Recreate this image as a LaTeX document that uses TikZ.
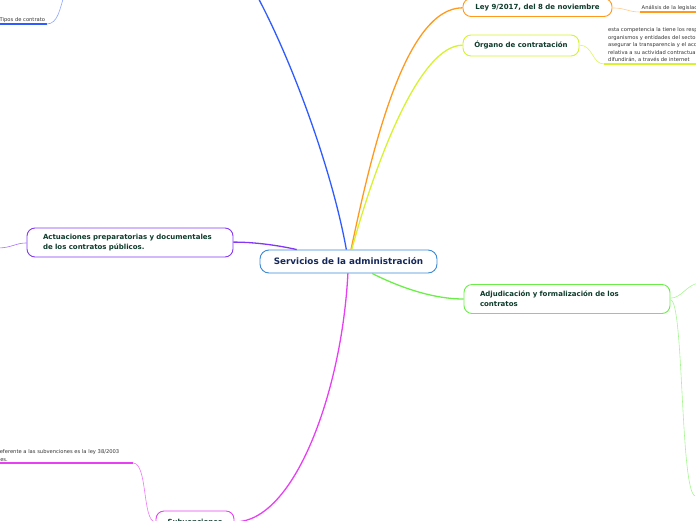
\documentclass[tikz,border=0pt]{standalone}
\usepackage{fontspec}
\setmainfont{DejaVu Sans}
\usepackage{xcolor}
\usepackage{tikz}
\usetikzlibrary{positioning, calc}

\definecolor{ctrline}{HTML}{3A8AD4}
\definecolor{ctrtext}{HTML}{16285A}
\definecolor{toptext}{HTML}{0E3B2C}
\definecolor{notetext}{HTML}{333333}
\definecolor{cblue}{HTML}{2F5BFF}
\definecolor{corange}{HTML}{FF9A1F}
\definecolor{cyellow}{HTML}{D6F230}
\definecolor{cpurple}{HTML}{8438F5}
\definecolor{cgreen}{HTML}{6CEE4A}
\definecolor{cmagenta}{HTML}{E640F2}

\hyphenpenalty=10000
\exhyphenpenalty=10000

\tikzset{
  topic/.style={draw, rounded corners=8pt, fill=white, line width=0.9pt,
    font=\bfseries\fontsize{7}{9.6}\selectfont, text=toptext},
  widetopic/.style={topic, text width=174pt, inner xsep=16pt, align=left, minimum height=29pt},
  note/.style={font=\fontsize{5.2}{7.5}\selectfont, text=notetext, inner sep=1.5pt, align=left},
  link/.style={line width=1.3pt},
  twig/.style={line width=0.6pt},
  bar/.style={line width=1.3pt}
}

\begin{document}
\begin{tikzpicture}[x=1pt, y=-1pt]
          \useasboundingbox (0,0) rectangle (696,520);
          \clip (0,0) rectangle (696,520);

          % central topic and main branches
          \node[draw=ctrline, rounded corners=9pt, line width=0.9pt, fill=white, minimum width=177pt, minimum height=23pt,
                font=\bfseries\fontsize{8.8}{10}\selectfont, text=ctrtext] (ctr) at (348.5,261.5) {Servicios de la administración};

          \node[topic, draw=corange, minimum width=149pt, minimum height=18pt] (ley) at (537.5,7.5) {Ley 9/2017, del 8 de noviembre};
          \node[topic, draw=cyellow, minimum width=116pt, minimum height=21pt] (org) at (521,45.5) {Órgano de contratación};
          \node[widetopic, draw=cpurple] (act) at (130,242.5) {Actuaciones preparatorias y documentales de los contratos públicos.};
          \node[widetopic, draw=cgreen] (adj) at (567,299) {Adjudicación y formalización de los contratos};
          \node[topic, draw=cmagenta, minimum width=78pt, minimum height=22pt] (subv) at (195,522) {Subvenciones};

          % notes
          \node[note, anchor=south west] (tipos) at (-2,24) {Tipos de contrato};
          \node[note, anchor=south west] (anal) at (640,12) {Análisis de la legislación};
          \node[note, anchor=south west, inner xsep=4pt] (orgnote) at (604,64) {esta competencia la tiene los responsables\\organismos y entidades del sector público\\asegurar la transparencia y el acceso\\relativa a su actividad contractual\\difundirán, a través de internet};
          \coordinate (subbar) at (133,463);
          \node[note, anchor=south east] (subnote) at ([xshift=-12pt]subbar) {La normativa referente a las subvenciones es la ley 38/2003\\de Subvenciones.};

          \coordinate (blueend) at (255,-8);
          \coordinate (tipsend) at (64,-4);
          \coordinate (actend) at (-3,248);
          \coordinate (adjup) at (699,283);
          \coordinate (adjdown) at (695,496);

          \draw[link, cblue] (ctr) .. controls (332,170) and (292,60) .. (blueend);
          \draw[link, corange] (ctr) .. controls (372,150) and (405,8) .. (ley);
          \draw[link, cyellow] (ctr) .. controls (376,160) and (420,45) .. (org);
          \draw[link, cpurple] (ctr) .. controls (290,248) and (262,242) .. (act);
          \draw[link, cgreen] (ctr) .. controls (395,285) and (430,299) .. (adj);
          \draw[link, cmagenta] (ctr) .. controls (342,390) and (295,522) .. (subv);

          % sub branches
          \draw[bar, cblue] (tipos.south west) -- (tipos.south east);
          \draw[twig, cblue!55] (tipos.south east) .. controls (58,24) and (60,8) .. (tipsend);
          \draw[twig, corange!50] (ley) .. controls (626,8) and (628,12) .. (anal.south west);
          \draw[bar, corange] (anal.south west) -- (anal.south east);
          \draw[twig, cyellow!80] (org) .. controls (593,45) and (592,64) .. (orgnote.south west);
          \draw[bar, cyellow] (orgnote.south west) -- (orgnote.south east);
          \draw[twig, cpurple!70] (act) .. controls (15,243) and (12,248) .. (actend);
          \draw[twig, cgreen!60] (adj) .. controls (682,298) and (686,285) .. (adjup);
          \draw[twig, cgreen!60] (adj) .. controls (684,300) and (680,490) .. (adjdown);
          \draw[twig, cmagenta!70] (subv) .. controls (142,522) and (148,463) .. (subbar);
          \draw[bar, cmagenta] (subbar) -- (subnote.south west);
        \end{tikzpicture}
\end{document}
